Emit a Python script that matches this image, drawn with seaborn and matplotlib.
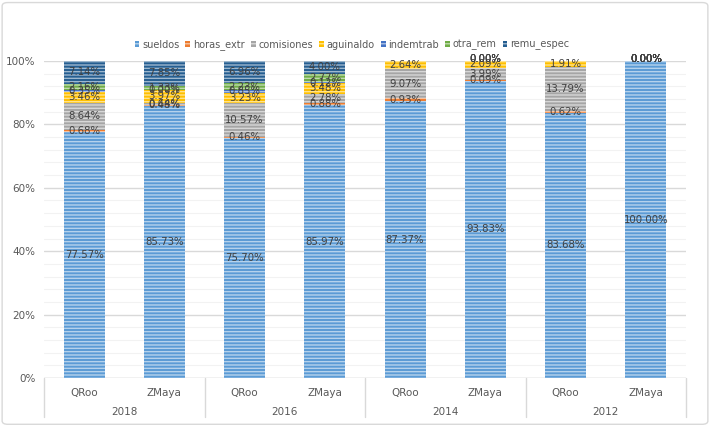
import numpy as np
import pandas as pd
import matplotlib
matplotlib.use("Agg")
import matplotlib.pyplot as plt
from matplotlib.colors import to_rgb
from matplotlib.patches import Patch, FancyBboxPatch
from matplotlib.lines import Line2D
import seaborn as sns

years = ["2018", "2016", "2014", "2012"]
places = ["QRoo", "ZMaya"]
components = ["sueldos", "horas_extr", "comisiones", "aguinaldo", "indemtrab", "otra_rem", "remu_espec"]
colors = ["#5B9BD5", "#ED7D31", "#A5A5A5", "#FFC000", "#4472C4", "#70AD47", "#255E91"]

nan = np.nan
# order of bars: 2018 QRoo, 2018 ZMaya, 2016 QRoo, 2016 ZMaya, 2014 QRoo, 2014 ZMaya, 2012 QRoo, 2012 ZMaya
sueldos    = [77.57, 85.73, 75.70, 85.97, 87.37, 93.83, 83.68, 100.00]
horas_extr = [0.68, 0.48, 0.46, 0.88, 0.93, 0.09, 0.62, 0.00]
comisiones = [8.64, 0.64, 10.57, 2.78, 9.07, 3.99, 13.79, 0.00]
aguinaldo  = [3.46, 3.97, 3.23, 3.48, 2.64, 2.09, 1.91, 0.00]
indemtrab  = [0.35, 0.00, 0.85, 0.12, nan, 0.00, nan, 0.00]
otra_rem   = [2.16, 1.33, 2.23, 2.77, nan, 0.00, nan, 0.00]
remu_espec = [7.14, 7.85, 6.96, 4.00, nan, 0.00, nan, 0.00]

series = [sueldos, horas_extr, comisiones, aguinaldo, indemtrab, otra_rem, remu_espec]
bar_keys = [f"{y}-{p}" for y in years for p in places]

sns.set_theme(style="white")
plt.rcParams['font.family'] = ['Liberation Sans Narrow', 'DejaVu Sans']
plt.rcParams['hatch.linewidth'] = 1.0

fig = plt.figure(figsize=(7.1, 4.26), dpi=100)
ax = fig.add_axes([44/710, 48/426, 642/710, 317/426])

def lighten(c, f):
    r, g, b = to_rgb(c)
    return (r + (1-r)*f, g + (1-g)*f, b + (1-b)*f)

bottom = np.zeros(len(bar_keys))
label_color = "#404040"
for name, vals, col in zip(components, series, colors):
    arr = np.array(vals, dtype=float)
    h = np.nan_to_num(arr, nan=0.0)
    n0 = len(ax.patches)
    sns.barplot(x=bar_keys, y=h, bottom=bottom, color=col, width=0.51,
                errorbar=None, ax=ax, linewidth=0, saturation=1)
    for p in ax.patches[n0:]:
        p.set_hatch("-----")
        p.set_edgecolor(lighten(col, 0.55))
        p.set_linewidth(0)
    for i, v in enumerate(arr):
        if np.isnan(v):
            continue
        yc = bottom[i] + h[i] / 2
        if h[i] == 0 and bottom[i] >= 99.9:
            yc = 100.6
        ax.text(i, yc, f"{v:.2f}%", ha="center", va="center", fontsize=7.3,
                color=label_color, zorder=5)
    bottom = bottom + h

ax.set_ylim(0, 100)
ax.set_xlim(-0.5, 7.5)
ax.set_yticks(np.arange(0, 101, 20))
ax.set_yticklabels([f"{v}%" for v in range(0, 101, 20)], fontsize=7.5, color="#595959")
ax.set_yticks(np.arange(0, 101, 4), minor=True)
ax.grid(axis="y", which="major", color="#D9D9D9", linewidth=1.0)
ax.grid(axis="y", which="minor", color="#F2F2F2", linewidth=0.8)
ax.set_axisbelow(True)
ax.tick_params(axis="y", which="both", length=0, pad=6)
ax.set_xticks([])
ax.set_xlabel("")
ax.set_ylabel("")
for s in ax.spines.values():
    s.set_visible(False)
ax.axhline(0, color="#D9D9D9", linewidth=1.0, zorder=0)

# multi-level category axis
trans = ax.get_xaxis_transform()
for xb in [-0.5, 1.5, 3.5, 5.5, 7.5]:
    ax.add_line(Line2D([xb, xb], [0, -0.123], transform=trans, color="#D9D9D9",
                       linewidth=1.0, clip_on=False))
for i, key in enumerate(bar_keys):
    ax.text(i, -0.046, key.split("-")[1], transform=trans, ha="center", va="center",
            fontsize=7.5, color="#595959", clip_on=False)
for j, y in enumerate(years):
    ax.text(2*j + 0.5, -0.106, y, transform=trans, ha="center", va="center",
            fontsize=7.5, color="#595959", clip_on=False)

# legend
handles = [Patch(facecolor=c, edgecolor=lighten(c, 0.55), hatch="----", linewidth=0) for c in colors]
fig.legend(handles, components, loc="center", bbox_to_anchor=(352/710, 1-45/426), ncol=7,
           frameon=False, fontsize=7.0, handlelength=0.5, handleheight=0.5,
           handletextpad=0.3, columnspacing=0.6, labelcolor="#595959")

# outer border
fig.patches.append(FancyBboxPatch((0.003, 0.004), 0.994, 0.99, boxstyle="round,pad=0,rounding_size=0.008",
                                  transform=fig.transFigure, facecolor="none", edgecolor="#D9D9D9",
                                  linewidth=1.0))

fig.savefig("out.png", dpi=100)
